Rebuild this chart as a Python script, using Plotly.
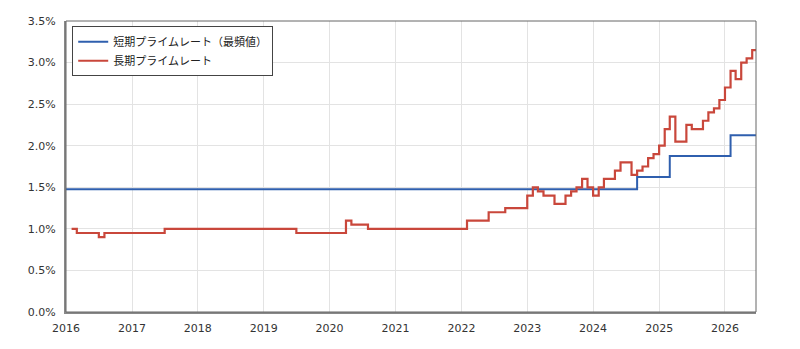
import plotly.graph_objects as go

# Short-term prime rate (mode), step dates and values (%)
short_dates = ["2016-01-01", "2024-09-01", "2025-03-01", "2026-02-01", "2026-07-01"]
short_vals = [1.475, 1.625, 1.875, 2.125, 2.125]

# Long-term prime rate, step dates and values (%)
long_dates = [
    "2016-02-01", "2016-03-01", "2016-07-01", "2016-08-01", "2017-07-01",
    "2019-07-01", "2020-04-01", "2020-05-01", "2020-08-01", "2022-02-01",
    "2022-06-01", "2022-09-01", "2023-01-01", "2023-02-01", "2023-03-01",
    "2023-04-01", "2023-06-01", "2023-08-01", "2023-09-01", "2023-10-01",
    "2023-11-01", "2023-12-01", "2024-01-01", "2024-02-01", "2024-03-01",
    "2024-05-01", "2024-06-01", "2024-08-01", "2024-09-01", "2024-10-01",
    "2024-11-01", "2024-12-01", "2025-01-01", "2025-02-01", "2025-03-01",
    "2025-04-01", "2025-06-01", "2025-07-01", "2025-09-01", "2025-10-01",
    "2025-11-01", "2025-12-01", "2026-01-01", "2026-02-01", "2026-03-01",
    "2026-04-01", "2026-05-01", "2026-06-01", "2026-07-01",
]
long_vals = [
    1.00, 0.95, 0.90, 0.95, 1.00,
    0.95, 1.10, 1.05, 1.00, 1.10,
    1.20, 1.25, 1.40, 1.50, 1.45,
    1.40, 1.30, 1.40, 1.45, 1.50,
    1.60, 1.50, 1.40, 1.50, 1.60,
    1.70, 1.80, 1.65, 1.70, 1.75,
    1.85, 1.90, 2.00, 2.20, 2.35,
    2.05, 2.25, 2.20, 2.30, 2.40,
    2.45, 2.55, 2.70, 2.90, 2.80,
    3.00, 3.05, 3.15, 3.15,
]

year_ticks = [f"{y}-01-01" for y in range(2016, 2027)]
year_labels = [str(y) for y in range(2016, 2027)]
y_ticks = [0, 0.5, 1.0, 1.5, 2.0, 2.5, 3.0, 3.5]
y_labels = [f"{v:.1f}%" for v in y_ticks]

fig = go.Figure()
fig.add_trace(go.Scatter(
    x=short_dates, y=short_vals, mode="lines", line_shape="hv",
    line=dict(color="#2f5fae", width=2), name="短期プライムレート（最頻値）"))
fig.add_trace(go.Scatter(
    x=long_dates, y=long_vals, mode="lines", line_shape="hv",
    line=dict(color="#c9473b", width=2.2), name="長期プライムレート"))

font_fam = "DejaVu Sans, Verdana, sans-serif"
fig.update_layout(
    width=800, height=349,
    margin=dict(l=66, r=44, t=21, b=37),
    paper_bgcolor="white", plot_bgcolor="white",
    font=dict(family=font_fam, size=11, color="#333"),
    showlegend=True,
    legend=dict(
        x=0.009, y=0.982, xanchor="left", yanchor="top",
        bgcolor="white", bordercolor="#444", borderwidth=1,
        font=dict(family="Noto Sans CJK JP, sans-serif", size=11, color="#222"),
        tracegroupgap=0, itemwidth=30,
    ),
    xaxis=dict(
        type="date", range=["2016-01-01", "2026-06-22"],
        tickvals=year_ticks, ticktext=year_labels,
        showgrid=True, gridcolor="#e3e3e3", gridwidth=1,
        showline=True, linecolor="#888", linewidth=2,
        ticks="outside", ticklen=5, tickcolor="rgba(0,0,0,0)", zeroline=False,
        tickfont=dict(family=font_fam, size=11, color="#333"),
    ),
    yaxis=dict(
        range=[0, 3.5], tickvals=y_ticks, ticktext=y_labels,
        showgrid=True, gridcolor="#e3e3e3", gridwidth=1,
        showline=True, linecolor="#888", linewidth=2,
        ticks="outside", ticklen=6, tickcolor="rgba(0,0,0,0)", zeroline=False,
        tickfont=dict(family=font_fam, size=11, color="#333"),
    ),
    shapes=[dict(type="rect", xref="paper", yref="paper", x0=0, y0=0, x1=1, y1=1,
                 line=dict(color="#666", width=1), layer="above")],
)

fig.write_html("out.html")
